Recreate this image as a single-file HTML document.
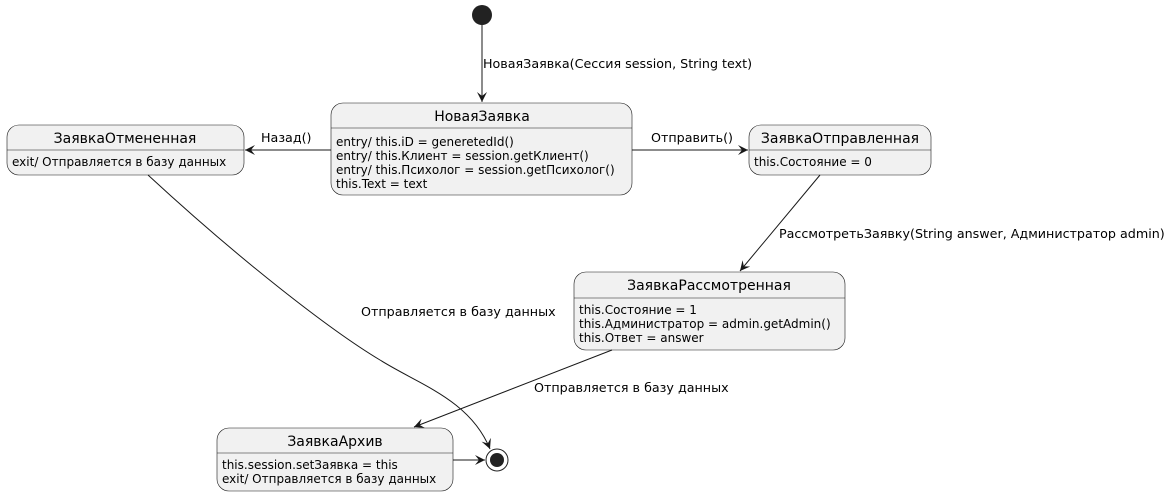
<!DOCTYPE html>
<html><head><meta charset="utf-8"><style>
html,body{margin:0;padding:0;background:#fff;}
svg{display:block;font-family:"DejaVu Sans","Liberation Sans",sans-serif;}
.t{font-size:14px;fill:#000;}
.b{font-size:12px;fill:#000;}
.e{font-size:12.7px;fill:#000;}
.box{fill:#f1f1f1;stroke:#181818;stroke-width:0.6;}
.ln{stroke:#181818;stroke-width:1;fill:none;}
.sep{stroke:#181818;stroke-width:0.6;}
</style></head><body>
<svg width="1171" height="496" viewBox="0 0 1171 496">
<defs><marker id="a" markerWidth="12" markerHeight="10" refX="10" refY="5" orient="auto" markerUnits="userSpaceOnUse"><path d="M0,0 L10,5 L0,10 L4,5 Z" fill="#181818"/></marker></defs>
<circle cx="482" cy="15" r="10" fill="#222"/>
<line class="ln" x1="482" y1="25" x2="482" y2="102" marker-end="url(#a)"/>
<text class="e" x="483" y="68">НоваяЗаявка(Сессия session, String text)</text>

<rect class="box" x="331" y="103" width="301" height="92" rx="12"/>
<line class="sep" x1="331" y1="128" x2="632" y2="128"/>
<text class="t" x="482" y="121" text-anchor="middle">НоваяЗаявка</text>
<text class="b" x="336" y="146">entry/ this.iD = generetedId()</text>
<text class="b" x="336" y="160">entry/ this.Клиент = session.getКлиент()</text>
<text class="b" x="336" y="174">entry/ this.Психолог = session.getПсихолог()</text>
<text class="b" x="336" y="188">this.Text = text</text>

<rect class="box" x="7" y="125" width="237" height="50" rx="12"/>
<line class="sep" x1="7" y1="150" x2="244" y2="150"/>
<text class="t" x="125" y="143" text-anchor="middle">ЗаявкаОтмененная</text>
<text class="b" x="12" y="166">exit/ Отправляется в базу данных</text>

<rect class="box" x="749" y="125" width="182" height="50" rx="12"/>
<line class="sep" x1="749" y1="150" x2="931" y2="150"/>
<text class="t" x="840" y="143" text-anchor="middle">ЗаявкаОтправленная</text>
<text class="b" x="754" y="166">this.Состояние = 0</text>

<rect class="box" x="574" y="272" width="271" height="78" rx="12"/>
<line class="sep" x1="574" y1="298" x2="845" y2="298"/>
<text class="t" x="709" y="290" text-anchor="middle">ЗаявкаРассмотренная</text>
<text class="b" x="579" y="314">this.Состояние = 1</text>
<text class="b" x="579" y="328">this.Администратор = admin.getAdmin()</text>
<text class="b" x="579" y="342">this.Ответ = answer</text>

<rect class="box" x="217" y="428" width="236" height="63" rx="12"/>
<line class="sep" x1="217" y1="453" x2="453" y2="453"/>
<text class="t" x="335" y="446" text-anchor="middle">ЗаявкаАрхив</text>
<text class="b" x="222" y="469">this.session.setЗаявка = this</text>
<text class="b" x="222" y="483">exit/ Отправляется в базу данных</text>

<circle cx="497" cy="460" r="11" fill="#fff" stroke="#222" stroke-width="1"/>
<circle cx="497" cy="460" r="7" fill="#222"/>

<line class="ln" x1="331" y1="150" x2="245" y2="150" marker-end="url(#a)"/>
<text class="e" x="261" y="142">Назад()</text>
<line class="ln" x1="632" y1="150" x2="748" y2="150" marker-end="url(#a)"/>
<text class="e" x="651" y="142">Отправить()</text>
<line class="ln" x1="820" y1="175" x2="740" y2="271" marker-end="url(#a)"/>
<text class="e" x="779" y="238">РассмотретьЗаявку(String answer, Администратор admin)</text>
<path class="ln" d="M148,175 C240,260 330,330 380,360 C420,385 470,400 490,449" marker-end="url(#a)"/>
<text class="e" x="361" y="316">Отправляется в базу данных</text>
<line class="ln" x1="612" y1="350" x2="414" y2="427" marker-end="url(#a)"/>
<text class="e" x="534" y="392">Отправляется в базу данных</text>
<line class="ln" x1="453" y1="460" x2="485" y2="460" marker-end="url(#a)"/>
</svg>
</body></html>
